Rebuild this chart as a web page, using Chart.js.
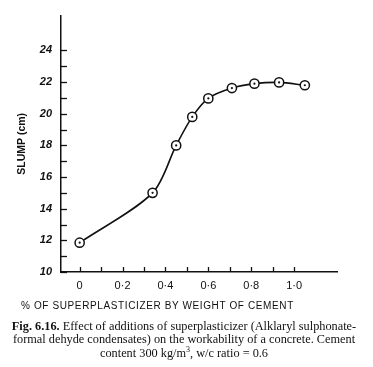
<!DOCTYPE html>
<html>
<head>
<meta charset="utf-8">
<script src="https://cdn.jsdelivr.net/npm/chart.js@4/dist/chart.umd.min.js"></script>
<style>
  html, body { margin: 0; padding: 0; background: #fff; }
  #wrap { position: relative; width: 373px; height: 367px; overflow: hidden; }
  #c { position: absolute; left: 0; top: 0; }
  #xtitle { position: absolute; left: 21px; top: 300px; font: 10px "Liberation Sans", Arial, sans-serif; color: #111; white-space: nowrap; letter-spacing: 0.62px; }
  #caption { position: absolute; left: 8px; top: 320px; width: 352px; text-align: center; font: 12.3px "Liberation Serif", "Times New Roman", serif; line-height: 13.3px; color: #111; }
  #caption b { font-weight: bold; }
</style>
</head>
<body>
<div id="wrap">
  <canvas id="c" width="373" height="367"></canvas>
  <div id="xtitle">% OF SUPERPLASTICIZER BY WEIGHT OF CEMENT</div>
  <div id="caption"><b>Fig. 6.16.</b> Effect of additions of superplasticizer (Alklaryl sulphonate-<br>formal dehyde condensates) on the workability of a concrete. Cement<br>content 300 kg/m<sup style="font-size:8px;line-height:0">3</sup>, w/c ratio = 0.6</div>
</div>
<script>
// ---- data ----
const superplasticizerPct = [0, 0.34, 0.45, 0.525, 0.6, 0.71, 0.815, 0.93, 1.05];
const slumpCm = [11.85, 15.0, 18.0, 19.8, 20.97, 21.62, 21.9, 21.98, 21.8];
const xTickValues = [0, 0.1, 0.2, 0.3, 0.4, 0.5, 0.6, 0.7, 0.8, 0.9, 1.0];
const xTickLabels = {"0": "0", "0.2": "0·2", "0.4": "0·4", "0.6": "0·6", "0.8": "0·8", "1": "1·0"};
const yTickValues = [10, 11, 12, 13, 14, 15, 16, 17, 18, 19, 20, 21, 22, 23, 24];
const yTickLabels = [10, 12, 14, 16, 18, 20, 22, 24];
const yTitle = "SLUMP (cm)";

const points = superplasticizerPct.map((x, i) => ({x: x, y: slumpCm[i]}));

const inwardTicks = {
  id: 'inwardTicks',
  afterDraw(chart) {
    const ctx = chart.ctx;
    const xs = chart.scales.x, ys = chart.scales.y;
    const area = chart.chartArea;
    ctx.save();
    ctx.strokeStyle = '#111';
    ctx.lineWidth = 1.3;
    xTickValues.forEach(v => {
      const px = Math.round(xs.getPixelForValue(v)) + 0.5;
      ctx.beginPath();
      ctx.moveTo(px, area.bottom);
      ctx.lineTo(px, area.bottom - 5);
      ctx.stroke();
    });
    yTickValues.forEach(v => {
      const py = Math.round(ys.getPixelForValue(v)) + 0.5;
      ctx.beginPath();
      ctx.moveTo(area.left, py);
      ctx.lineTo(area.left + 6, py);
      ctx.stroke();
    });
    ctx.restore();
  },
  afterDatasetsDraw(chart) {
    const ctx = chart.ctx;
    const meta = chart.getDatasetMeta(0);
    ctx.save();
    ctx.fillStyle = '#111';
    meta.data.forEach(el => {
      ctx.beginPath();
      ctx.arc(el.x, el.y, 1.1, 0, Math.PI * 2);
      ctx.fill();
    });
    ctx.restore();
  }
};

new Chart(document.getElementById('c'), {
  type: 'scatter',
  data: {
    datasets: [{
      data: points,
      showLine: true,
      borderColor: '#111',
      borderWidth: 1.6,
      tension: 0.3,
      pointRadius: 4.6,
      pointBorderWidth: 1.5,
      pointBorderColor: '#111',
      pointBackgroundColor: '#fff'
    }]
  },
  options: {
    responsive: false,
    animation: false,
    devicePixelRatio: 1,
    layout: { padding: { left: 0, right: 36, top: 14, bottom: 0 } },
    plugins: { legend: { display: false }, tooltip: { enabled: false } },
    scales: {
      x: {
        type: 'linear',
        min: -0.087,
        max: 1.2,
        grid: { display: false, drawTicks: false },
        border: { display: true, color: '#111', width: 1.5 },
        afterBuildTicks(scale) {
          scale.ticks = Object.keys(xTickLabels).map(k => ({ value: parseFloat(k) }));
        },
        afterFit(scale) { scale.height = 95; },
        ticks: {
          padding: 7,
          color: '#111',
          font: { family: '"Liberation Sans", Arial, sans-serif', size: 11 },
          callback: (v) => xTickLabels[String(Math.round(v * 10) / 10)] ?? ''
        }
      },
      y: {
        type: 'linear',
        min: 10,
        max: 26.2,
        grid: { display: false, drawTicks: false },
        border: { display: true, color: '#111', width: 1.5 },
        afterBuildTicks(scale) {
          scale.ticks = yTickLabels.map(v => ({ value: v }));
        },
        afterFit(scale) { scale.width = 61; },
        title: {
          display: true,
          text: yTitle,
          color: '#111',
          padding: { top: 16, bottom: 0 },
          font: { family: '"Liberation Sans", Arial, sans-serif', size: 10.5, weight: 'bold' }
        },
        ticks: {
          padding: 9,
          color: '#111',
          font: { family: '"Liberation Sans", Arial, sans-serif', size: 11, weight: 'bold', style: 'italic' }
        }
      }
    }
  },
  plugins: [inwardTicks]
});
</script>
</body>
</html>
